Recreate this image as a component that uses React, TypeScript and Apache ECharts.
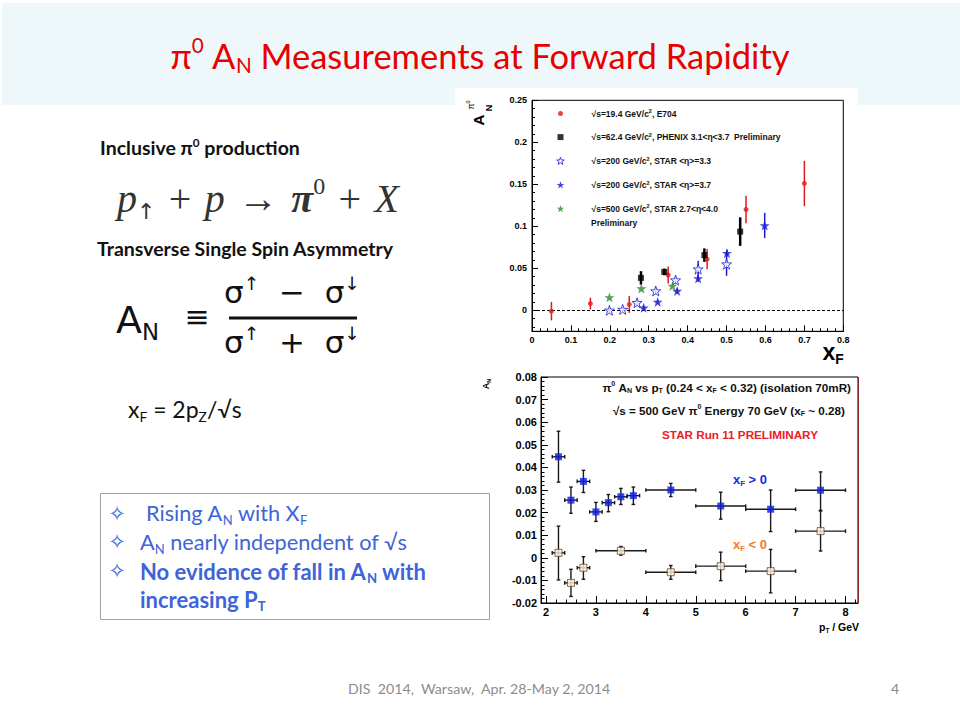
import React, { useEffect, useRef } from "react";
import * as echarts from "echarts";

// ---------------- Upper chart: A_N vs x_F, rows = [xF, AN, error] ----------------
const e704 = [
  [0.05, -0.001, 0.011],
  [0.15, 0.008, 0.007],
  [0.25, 0.007, 0.01],
  [0.35, 0.042, 0.01],
  [0.45, 0.061, 0.012],
  [0.55, 0.12, 0.0165],
  [0.7, 0.151, 0.027],
];
const phenix = [
  [0.28, 0.0386, 0.008],
  [0.34, 0.0457, 0.004],
  [0.443, 0.0657, 0.008],
  [0.535, 0.0937, 0.017],
];
const star33 = [
  [0.199, 0.0, 0.003],
  [0.233, 0.001, 0.003],
  [0.27, 0.009, 0.004],
  [0.318, 0.023, 0.004],
  [0.369, 0.036, 0.004],
  [0.427, 0.049, 0.01],
  [0.5, 0.055, 0.014],
];
const star37 = [
  [0.287, 0.003, 0.002],
  [0.323, 0.01, 0.002],
  [0.373, 0.023, 0.003],
  [0.427, 0.038, 0.004],
  [0.501, 0.068, 0.004],
  [0.598, 0.101, 0.015],
];
const star500 = [
  [0.199, 0.0154],
  [0.281, 0.026],
  [0.361, 0.029],
];
const topYLabels = [0, 0.05, 0.1, 0.15, 0.2, 0.25];

// ---------------- Lower chart: A_N vs pT, rows = [pT, AN, pT half width, AN low, AN high] ----------------
const xfPositive = [
  [2.25, 0.0447, 0.125, 0.0335, 0.056],
  [2.5, 0.0255, 0.125, 0.0197, 0.0313],
  [2.75, 0.0338, 0.125, 0.0289, 0.0387],
  [3.0, 0.0203, 0.125, 0.0161, 0.0245],
  [3.25, 0.0244, 0.125, 0.0204, 0.028],
  [3.5, 0.027, 0.125, 0.0236, 0.0307],
  [3.75, 0.0275, 0.125, 0.0236, 0.0313],
  [4.5, 0.03, 0.5, 0.0271, 0.0329],
  [5.5, 0.0229, 0.5, 0.0171, 0.029],
  [6.5, 0.0215, 0.5, 0.0116, 0.03],
  [7.5, 0.0299, 0.5, 0.021, 0.038],
];
const xfNegative = [
  [2.25, 0.0022, 0.125, -0.0098, 0.014],
  [2.5, -0.0111, 0.125, -0.0171, -0.0051],
  [2.75, -0.0044, 0.125, -0.0095, 0.0005],
  [3.5, 0.0031, 0.5, 0.0012, 0.005],
  [4.5, -0.0064, 0.5, -0.0095, -0.0034],
  [5.5, -0.0037, 0.5, -0.0101, 0.0025],
  [6.5, -0.0059, 0.5, -0.0155, 0.0037],
  [7.5, 0.0118, 0.5, 0.003, 0.0207],
];
const bottomXLabels = [2, 3, 4, 5, 6, 7, 8];

const legendLabels: Record<string, string> = {
  E704: "√s=19.4 GeV/c{s|2}, E704",
  PHENIX: "√s=62.4 GeV/c{s|2}, PHENIX 3.1<η<3.7  Preliminary",
  STAR33: "√s=200 GeV/c{s|2}, STAR <η>=3.3",
  STAR37: "√s=200 GeV/c{s|2}, STAR <η>=3.7",
  STAR500: "√s=500 GeV/c{s|2}, STAR 2.7<η<4.0",
};

const PLOT_FONT = "Liberation Sans";
const SLIDE_FONT = "Lato";
const STAR_PATH =
  "path://M5,0 L6.18,3.45 L9.76,3.45 L6.9,5.58 L7.94,9.05 L5,6.95 L2.06,9.05 L3.1,5.58 L0.24,3.45 L3.82,3.45 Z";
const STAR_ICON =
  "path://M0,0 M12,11 M6,1.5 L6.94,4.26 L9.81,4.26 L7.52,5.96 L8.35,8.74 L6,7.06 L3.65,8.74 L4.48,5.96 L2.19,4.26 L5.06,4.26 Z";

function rich(fs: number, family: string, weight: string | number, color: string, style = "normal") {
  const base: any = {
    fontSize: fs,
    fontFamily: family,
    fontWeight: weight,
    fontStyle: style,
    fill: color,
    color: color,
    lineHeight: Math.round(fs * 1.2),
  };
  return {
    n: base,
    sup: { ...base, fontSize: fs * 0.6, lineHeight: fs * 0.6, verticalAlign: "top" },
    sub: { ...base, fontSize: fs * 0.6, lineHeight: fs * 0.6, verticalAlign: "bottom" },
  };
}

function txt(x: number, y: number, text: string, r: any, align = "left", extra: any = {}) {
  return {
    type: "text",
    x,
    y,
    z: 20,
    silent: true,
    ...extra,
    style: { text, rich: r, align, verticalAlign: "middle" },
  };
}

const barRenderer = (color: string, lw: number, cap: number) => (params: any, api: any) => {
  const x = api.value(0);
  const y = api.value(1);
  const ex = api.value(2);
  const lo = api.value(3);
  const hi = api.value(4);
  const st = { stroke: color, lineWidth: lw };
  const pLo = api.coord([x, lo]);
  const pHi = api.coord([x, hi]);
  const ch: any[] = [
    { type: "line", shape: { x1: pLo[0], y1: pLo[1], x2: pHi[0], y2: pHi[1] }, style: st },
  ];
  if (cap > 0) {
    ch.push({ type: "line", shape: { x1: pLo[0] - cap, y1: pLo[1], x2: pLo[0] + cap, y2: pLo[1] }, style: st });
    ch.push({ type: "line", shape: { x1: pHi[0] - cap, y1: pHi[1], x2: pHi[0] + cap, y2: pHi[1] }, style: st });
  }
  if (ex > 0) {
    const pL = api.coord([x - ex, y]);
    const pR = api.coord([x + ex, y]);
    ch.push({ type: "line", shape: { x1: pL[0], y1: pL[1], x2: pR[0], y2: pR[1] }, style: st });
    if (cap > 0) {
      ch.push({ type: "line", shape: { x1: pL[0], y1: pL[1] - cap, x2: pL[0], y2: pL[1] + cap }, style: st });
      ch.push({ type: "line", shape: { x1: pR[0], y1: pR[1] - cap, x2: pR[0], y2: pR[1] + cap }, style: st });
    }
  }
  return { type: "group", children: ch };
};

function errSeries(name: string, data: number[][], xi: number, yi: number, color: string, lw: number, cap: number) {
  return {
    type: "custom",
    name,
    xAxisIndex: xi,
    yAxisIndex: yi,
    z: 3,
    silent: true,
    encode: { x: 0, y: 1 },
    data,
    renderItem: barRenderer(color, lw, cap),
  };
}

const sym = (rows: number[][]) => rows.map((d) => [d[0], d[1]]);
const symErr = (rows: number[][]) => rows.map((d) => [d[0], d[1], 0, d[1] - d[2], d[1] + d[2]]);

export default function App() {
  const ref = useRef<HTMLDivElement>(null);
  useEffect(() => {
    if (!ref.current) return;
    const chart = echarts.init(ref.current, undefined, { renderer: "svg" });

    const topYMinor: number[] = [];
    for (let k = -2; k <= 25; k++) if (k % 5 !== 0) topYMinor.push(k / 100);
    const botXMinor: number[] = [];
    for (let k = 10; k <= 41; k++) if (k % 5 !== 0) botXMinor.push(k / 5);

    const red = "#e31a1c";
    const blue = "#1c1cd6";
    const green = "#2a8a2a";
    const bBlue = "#0d1ee8";
    const axisLine = { show: true, onZero: false, lineStyle: { color: "#000", width: 1 } };
    const topLabel = { fontFamily: PLOT_FONT, fontSize: 9, fontWeight: "bold", color: "#000" };
    const botLabel = { fontFamily: PLOT_FONT, fontSize: 11, fontWeight: "bold", color: "#000" };

    const slideBlue = "#3d64d8";
    const bulletR = rich(21.7, SLIDE_FONT, "normal", slideBlue);
    const bulletB = rich(22, SLIDE_FONT, "bold", slideBlue);

    const serif = "Liberation Serif";
    const formulaRich: any = {
      i: { fontSize: 40, fontFamily: serif, fontStyle: "italic", fill: "#333", lineHeight: 48 },
      bi: { fontSize: 40, fontFamily: serif, fontStyle: "italic", fontWeight: "bold", fill: "#333", lineHeight: 48 },
      o: { fontSize: 40, fontFamily: serif, fill: "#333", lineHeight: 48 },
      sub: { fontSize: 22, fontFamily: "DejaVu Sans", fill: "#333", lineHeight: 20, verticalAlign: "bottom" },
      sup: { fontSize: 24, fontFamily: serif, fill: "#333", lineHeight: 22, verticalAlign: "top" },
    };
    const sp = "\u2004";

    const option: any = {
      animation: false,
      backgroundColor: "#ffffff",
      grid: [
        { left: 532, right: 116.7, top: 100.3, bottom: 388.7, show: true, borderColor: "#000", borderWidth: 1, backgroundColor: "transparent" },
        { left: 541, right: 102, top: 377, bottom: 117, show: true, borderColor: "#000", borderWidth: 1, backgroundColor: "transparent" },
      ],
      xAxis: [
        {
          type: "value", gridIndex: 0, min: 0, max: 0.8, interval: 0.1,
          axisLine, splitLine: { show: false },
          axisTick: { inside: true, length: 6, lineStyle: { color: "#000" } },
          minorTick: { show: true, splitNumber: 5, length: 3, lineStyle: { color: "#000" } },
          axisLabel: { ...topLabel, margin: 4, formatter: (v: number) => String(Math.round(v * 10) / 10) },
        },
        {
          type: "value", gridIndex: 1, min: 1.9, max: 8.25, position: "bottom",
          axisLine, splitLine: { show: false },
          axisTick: { inside: true, length: 7, customValues: bottomXLabels, lineStyle: { color: "#000" } },
          axisLabel: { ...botLabel, margin: 3, customValues: bottomXLabels, formatter: (v: number) => String(Math.round(v)) },
        },
        {
          type: "value", gridIndex: 1, min: 1.9, max: 8.25, position: "bottom", offset: 0,
          axisLine: { show: false, onZero: false }, splitLine: { show: false }, axisLabel: { show: false },
          axisTick: { show: true, inside: true, length: 3.5, customValues: botXMinor, lineStyle: { color: "#000" } },
        },
      ],
      yAxis: [
        {
          type: "value", gridIndex: 0, min: -0.025, max: 0.25, position: "left",
          axisLine, splitLine: { show: false },
          axisTick: { inside: true, length: 6, customValues: topYLabels, lineStyle: { color: "#000" } },
          axisLabel: { ...topLabel, margin: 5, customValues: topYLabels, formatter: (v: number) => String(Math.round(v * 100) / 100) },
        },
        {
          type: "value", gridIndex: 0, min: -0.025, max: 0.25, position: "left", offset: 0,
          axisLine: { show: false, onZero: false }, splitLine: { show: false }, axisLabel: { show: false },
          axisTick: { show: true, inside: true, length: 3, customValues: topYMinor, lineStyle: { color: "#000" } },
        },
        {
          type: "value", gridIndex: 1, min: -0.02, max: 0.08, interval: 0.01, position: "left",
          axisLine, splitLine: { show: false },
          axisTick: { inside: true, length: 7, lineStyle: { color: "#000" } },
          minorTick: { show: true, splitNumber: 5, length: 3.5, lineStyle: { color: "#000" } },
          axisLabel: {
            ...botLabel, margin: 4,
            formatter: (v: number) => (Math.abs(v) < 1e-9 ? "0" : (Math.round(v * 100) / 100).toFixed(2)),
          },
        },
      ],
      legend: {
        orient: "vertical", left: 554, top: 108, itemWidth: 12, itemHeight: 11, itemGap: 12.6,
        selectedMode: false, padding: 0,
        data: [
          { name: "E704", icon: "path://M0,0 M12,11 M3.5,5.5 A2.5,2.5 0 1,1 8.5,5.5 A2.5,2.5 0 1,1 3.5,5.5 Z", itemStyle: { color: red, borderWidth: 0 } },
          { name: "PHENIX", icon: "path://M0,0 M12,11 M3,2.5 L9,2.5 L9,8.5 L3,8.5 Z", itemStyle: { color: "#000", borderWidth: 0 } },
          { name: "STAR33", icon: STAR_ICON, itemStyle: { color: "#ffffff", borderColor: blue, borderWidth: 1 } },
          { name: "STAR37", icon: STAR_ICON, itemStyle: { color: blue, borderWidth: 0 } },
          { name: "STAR500", icon: STAR_ICON, itemStyle: { color: green, borderWidth: 0 } },
        ],
        formatter: (n: string) => legendLabels[n],
        textStyle: {
          fontFamily: PLOT_FONT, fontSize: 8.5, fontWeight: "bold", color: "#111", lineHeight: 11,
          padding: [0, 0, 0, 20],
          rich: { s: { fontFamily: PLOT_FONT, fontSize: 5.5, fontWeight: "bold", color: "#111", lineHeight: 5, verticalAlign: "top" } },
        },
      },
      series: [
        errSeries("e704Err", symErr(e704), 0, 0, red, 1.5, 0),
        errSeries("phenixErr", symErr(phenix), 0, 0, "#000", 2.5, 0),
        errSeries("star33Err", symErr(star33), 0, 0, blue, 1.5, 0),
        errSeries("star37Err", symErr(star37), 0, 0, blue, 1.5, 0),
        {
          type: "scatter", name: "E704", xAxisIndex: 0, yAxisIndex: 0, data: sym(e704), z: 5,
          symbol: "circle", symbolSize: 5, itemStyle: { color: red },
          markLine: {
            silent: true, symbol: "none", label: { show: false },
            lineStyle: { color: "#000", width: 1, type: [3, 2] },
            data: [{ yAxis: 0 }],
          },
        },
        {
          type: "scatter", name: "PHENIX", xAxisIndex: 0, yAxisIndex: 0, data: sym(phenix), z: 5,
          symbol: "rect", symbolSize: 6, itemStyle: { color: "#000" },
        },
        {
          type: "scatter", name: "STAR33", xAxisIndex: 0, yAxisIndex: 0, data: sym(star33), z: 5,
          symbol: STAR_PATH, symbolSize: 10, itemStyle: { color: "#ffffff", borderColor: blue, borderWidth: 1 },
        },
        {
          type: "scatter", name: "STAR37", xAxisIndex: 0, yAxisIndex: 0, data: sym(star37), z: 5,
          symbol: STAR_PATH, symbolSize: 10, itemStyle: { color: blue },
        },
        {
          type: "scatter", name: "STAR500", xAxisIndex: 0, yAxisIndex: 0, data: sym(star500), z: 5,
          symbol: STAR_PATH, symbolSize: 10, itemStyle: { color: green },
        },
        errSeries("posErr", xfPositive, 1, 2, "#1a1a1a", 1.4, 1.8),
        errSeries("negErr", xfNegative, 1, 2, "#1a1a1a", 1.4, 1.8),
        {
          type: "scatter", name: "xF>0", xAxisIndex: 1, yAxisIndex: 2, data: sym(xfPositive), z: 5,
          symbol: "rect", symbolSize: 7, itemStyle: { color: bBlue },
        },
        {
          type: "scatter", name: "xF<0", xAxisIndex: 1, yAxisIndex: 2, data: sym(xfNegative), z: 5,
          symbol: "rect", symbolSize: 7, itemStyle: { color: "#fff1e2", borderColor: "#6a4a30", borderWidth: 1 },
        },
      ],
      graphic: [
        // backgrounds
        { type: "rect", z: -10, silent: true, shape: { x: 2, y: 3, width: 958, height: 102 }, style: { fill: "#eef7fa" } },
        { type: "rect", z: -9, silent: true, shape: { x: 455, y: 88, width: 403, height: 282 }, style: { fill: "#ffffff" } },
        // title
        txt(480, 55, "{n|π}{sup|0}{n| A}{sub|N}{n| Measurements at Forward Rapidity}", rich(34.5, SLIDE_FONT, "normal", "#e80000"), "center"),
        // left column
        txt(100, 147, "{n|Inclusive π}{sup|0}{n| production}", rich(19.5, SLIDE_FONT, "bold", "#111"), "left"),
        txt(117, 198, `{i|p}{sub|↑}{o|${sp}+${sp}}{i|p}{o|${sp}→${sp}}{bi|π}{sup|0}{o|${sp}+${sp}}{i|X}`, formulaRich, "left"),
        txt(97, 248, "{n|Transverse Single Spin Asymmetry}", rich(19.5, SLIDE_FONT, "bold", "#111"), "left"),
        txt(116, 320, "{n|A}{sub|N}", rich(38, "DejaVu Sans", "normal", "#111"), "left"),
        txt(197, 316, "{n|≡}", rich(30, "DejaVu Sans", "normal", "#111"), "center"),
        txt(292, 292, "{n|σ}{sup|↑}{n|  −  σ}{sup|↓}", rich(31, "DejaVu Sans", "normal", "#111"), "center"),
        { type: "line", z: 20, silent: true, shape: { x1: 229, y1: 318, x2: 357, y2: 318 }, style: { stroke: "#111", lineWidth: 3 } },
        txt(292, 342, "{n|σ}{sup|↑}{n|  +  σ}{sup|↓}", rich(31, "DejaVu Sans", "normal", "#111"), "center"),
        txt(128, 409, "{n|x}{sub|F}{n| = 2p}{sub|Z}{n|/√s}", rich(23, SLIDE_FONT, "normal", "#111"), "left"),
        { type: "rect", z: 20, silent: true, shape: { x: 100.5, y: 493.5, width: 389, height: 126 }, style: { fill: "none", stroke: "#a0a0a0", lineWidth: 1 } },
        txt(117, 514, "{n|✧}", rich(21, "DejaVu Sans", "normal", slideBlue), "center"),
        txt(117, 542, "{n|✧}", rich(21, "DejaVu Sans", "normal", slideBlue), "center"),
        txt(117, 571, "{n|✧}", rich(21, "DejaVu Sans", "normal", slideBlue), "center"),
        txt(146, 513, "{n|Rising A}{sub|N}{n| with X}{sub|F}", bulletR, "left"),
        txt(140, 542, "{n|A}{sub|N}{n| nearly independent of √s}", bulletR, "left"),
        txt(140, 571, "{n|No evidence of fall in A}{sub|N}{n| with}", bulletB, "left"),
        txt(140, 599, "{n|increasing P}{sub|T}", bulletB, "left"),
        // footer
        txt(348, 688, "{n|DIS  2014,  Warsaw,  Apr. 28-May 2, 2014}", rich(14.2, SLIDE_FONT, "normal", "#8c8c8c"), "left"),
        txt(895, 688, "{n|4}", rich(14.2, SLIDE_FONT, "normal", "#8c8c8c"), "center"),
        // upper chart annotations
        txt(478, 120, "{n|A}", rich(15, PLOT_FONT, "bold", "#000"), "center", { rotation: Math.PI / 2 }),
        txt(489, 108, "{n|N}", rich(9, PLOT_FONT, "bold", "#000"), "center", { rotation: Math.PI / 2 }),
        txt(471, 105, "{n|π}{sup|0}", rich(9, PLOT_FONT, "normal", "#000"), "center", { rotation: Math.PI / 2 }),
        txt(833, 352, "{n|x}{sub|F}", rich(23, PLOT_FONT, "bold", "#000"), "center"),
        txt(591, 223, "{n|Preliminary}", rich(8.5, PLOT_FONT, "bold", "#111"), "left"),
        // lower chart annotations
        txt(851, 387, "{n|π}{sup|0}{n| A}{sub|N}{n| vs p}{sub|T}{n| (0.24 < x}{sub|F}{n| < 0.32) (isolation 70mR)}", rich(11.7, PLOT_FONT, "bold", "#111"), "right"),
        txt(845, 410, "{n|√s = 500 GeV π}{sup|0}{n| Energy 70 GeV (x}{sub|F}{n| ~ 0.28)}", rich(11.7, PLOT_FONT, "bold", "#111"), "right"),
        txt(740, 434, "{n|STAR Run 11 PRELIMINARY}", rich(11.7, PLOT_FONT, "bold", "#e8202a"), "center"),
        txt(750, 479, "{n|x}{sub|F}{n| > 0}", rich(13, PLOT_FONT, "bold", "#1a2ae6"), "center"),
        txt(750, 544, "{n|x}{sub|F}{n| < 0}", rich(13, PLOT_FONT, "bold", "#f07e2a"), "center"),
        txt(486, 384, "{n|A}{sub|N}", rich(9, PLOT_FONT, "bold", "#000"), "center", { rotation: Math.PI / 2 }),
        txt(859, 627, "{n|p}{sub|T}{n| / GeV}", rich(10.5, PLOT_FONT, "bold", "#000"), "right"),
        { type: "line", z: 20, silent: true, shape: { x1: 858.5, y1: 377, x2: 858.5, y2: 603 }, style: { stroke: "#8b2a2a", lineWidth: 1 } },
      ],
    };
    chart.setOption(option);
    return () => chart.dispose();
  }, []);
  return (
    <div
      ref={ref}
      style={{ position: "fixed", left: 0, top: 0, width: 960, height: 720, background: "#fff" }}
    />
  );
}
